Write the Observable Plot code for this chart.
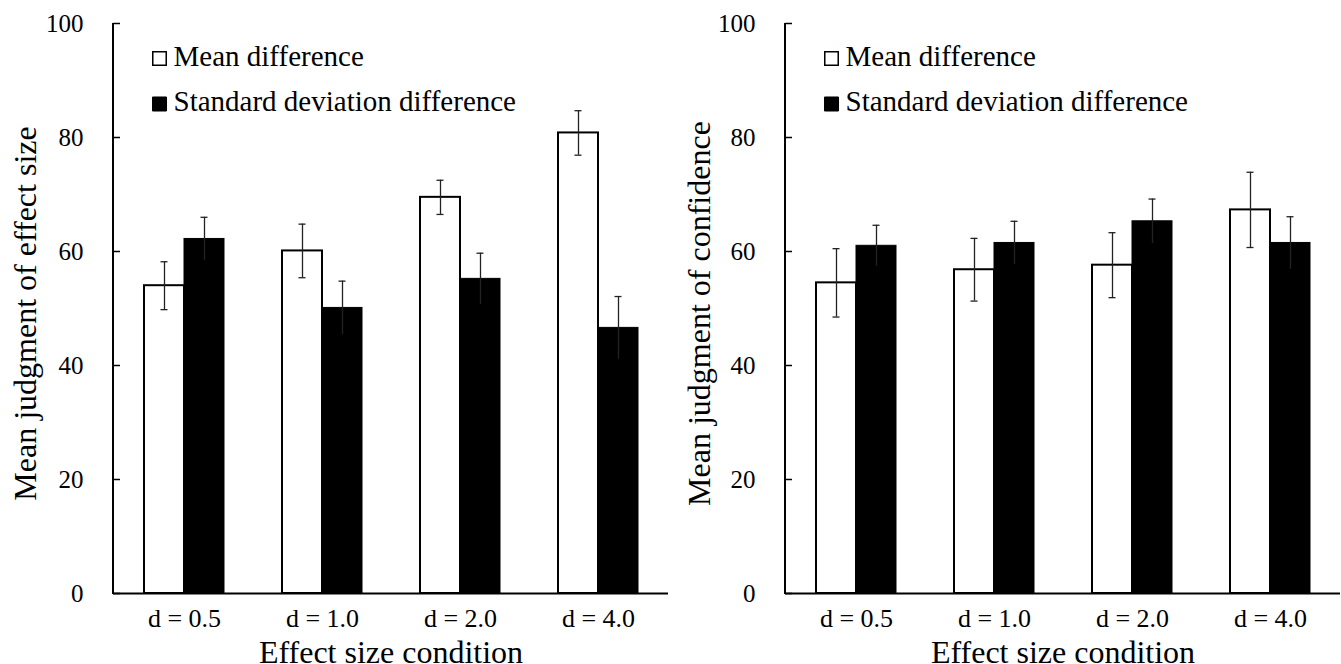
<!DOCTYPE html>
<html>
<head>
<meta charset="utf-8">
<script src="https://cdn.jsdelivr.net/npm/d3@7"></script>
<script src="https://cdn.jsdelivr.net/npm/@observablehq/plot@0.6"></script>
<style>
  html, body { margin: 0; padding: 0; background: white; }
  #wrap { display: flex; flex-direction: row; width: 1341px; height: 664px; }
  svg { overflow: visible; font-family: 'Liberation Serif', 'Times New Roman', serif !important; }
  svg text { font-family: 'Liberation Serif', 'Times New Roman', serif; }
</style>
</head>
<body>
<div id="wrap"></div>
<script>
// ---- data ----
const conditions = ["d = 0.5", "d = 1.0", "d = 2.0", "d = 4.0"];
const seriesNames = ["Mean difference", "Standard deviation difference"];

// Left panel: mean judgment of effect size
const effectMean = [54.0, 60.1, 69.5, 80.8];
const effectMeanErr = [4.2, 4.7, 3.0, 3.9];
const effectSD = [62.2, 50.1, 55.2, 46.6];
const effectSDErr = [3.8, 4.7, 4.5, 5.5];

// Right panel: mean judgment of confidence
const confMean = [54.5, 56.8, 57.6, 67.3];
const confMeanErr = [6.0, 5.5, 5.7, 6.6];
const confSD = [61.0, 61.5, 65.3, 61.5];
const confSDErr = [3.6, 3.8, 3.9, 4.6];

const yTicks = [0, 20, 40, 60, 80, 100];
const xTitle = "Effect size condition";
const yTitles = ["Mean judgment of effect size", "Mean judgment of confidence"];

// ---- chart ----
function panel({width, marginLeft, marginRight, mean, meanErr, sd, sdErr, yTitle, yTitleDx}) {
  const H = 664, mt = 23, mb = 71;
  const plotW = width - marginLeft - marginRight;
  const bandW = 80, half = bandW / 2, cap = 3.5;
  const rows = conditions.map((c, i) => ({c, mean: mean[i], meanErr: meanErr[i], sd: sd[i], sdErr: sdErr[i]}));
  const axisLine = (index, scales, values, dims) => {
    const g = d3.create("svg:g");
    g.append("line")
      .attr("x1", dims.marginLeft).attr("x2", dims.marginLeft)
      .attr("y1", scales.y(100)).attr("y2", scales.y(0) + 1)
      .attr("stroke", "black").attr("stroke-width", 2);
    return g.node();
  };
  return Plot.plot({
    width, height: H,
    marginLeft, marginRight, marginTop: mt, marginBottom: mb,
    style: {fontFamily: "'Liberation Serif', 'Times New Roman', serif", color: "black", background: "white", overflow: "visible"},
    x: {domain: conditions, paddingInner: 0.4234, paddingOuter: 0.214, range: [marginLeft, width - marginRight]},
    y: {domain: [0, 100]},
    marks: [
      // bars
      Plot.barY(rows, {x: "c", y: "mean", insetRight: half, fill: "white", stroke: "black", strokeWidth: 2}),
      Plot.barY(rows, {x: "c", y: "sd", insetLeft: half, fill: "black", stroke: "black", strokeWidth: 1}),
      // error bars (Mean)
      Plot.ruleX(rows, {x: "c", y1: d => d.mean - d.meanErr, y2: d => d.mean + d.meanErr, dx: -half / 2, stroke: "#222", strokeWidth: 1.3}),
      Plot.tickY(rows, {x: "c", y: d => d.mean + d.meanErr, insetLeft: half / 2 - cap, insetRight: bandW - half / 2 - cap, stroke: "#222", strokeWidth: 1.3}),
      Plot.tickY(rows, {x: "c", y: d => d.mean - d.meanErr, insetLeft: half / 2 - cap, insetRight: bandW - half / 2 - cap, stroke: "#222", strokeWidth: 1.3}),
      // error bars (SD)
      Plot.ruleX(rows, {x: "c", y1: d => d.sd - d.sdErr, y2: d => d.sd + d.sdErr, dx: half / 2, stroke: "#222", strokeWidth: 1.3}),
      Plot.tickY(rows, {x: "c", y: d => d.sd + d.sdErr, insetLeft: bandW - half / 2 - cap, insetRight: half / 2 - cap, stroke: "#222", strokeWidth: 1.3}),
      // axes
      Plot.ruleY([0], {stroke: "black", strokeWidth: 2}),
      axisLine,
      Plot.tickY(yTicks, {y: d => d, insetRight: plotW - 7, stroke: "black", strokeWidth: 1.5}),
      Plot.axisY({ticks: yTicks, tickSize: 0, tickPadding: 3, dx: -27, fontSize: 25, label: null}),
      Plot.axisX({tickSize: 0, tickPadding: 15, fontSize: 26, label: null}),
      // titles
      Plot.text([yTitle], {frameAnchor: "left", textAnchor: "middle", lineAnchor: "middle", rotate: -90, dx: yTitleDx, dy: 5, fontSize: 32}),
      Plot.text([xTitle], {frameAnchor: "bottom", textAnchor: "middle", lineAnchor: "middle", dy: 59, fontSize: 32}),
      // legend
      Plot.dot([seriesNames[0]], {frameAnchor: "top-left", dx: 46, dy: 35, symbol: "square", r: 7.6, fill: "white", stroke: "black", strokeWidth: 1.5}),
      Plot.dot([seriesNames[1]], {frameAnchor: "top-left", dx: 46, dy: 80.5, symbol: "square", r: 7.9, fill: "black", stroke: "black", strokeWidth: 1}),
      Plot.text([seriesNames[0]], {frameAnchor: "top-left", textAnchor: "start", lineAnchor: "middle", dx: 60, dy: 33, fontSize: 29}),
      Plot.text([seriesNames[1]], {frameAnchor: "top-left", textAnchor: "start", lineAnchor: "middle", dx: 60, dy: 78, fontSize: 29})
    ]
  });
}

const wrap = document.getElementById("wrap");
wrap.append(panel({width: 670, marginLeft: 113, marginRight: 2, mean: effectMean, meanErr: effectMeanErr, sd: effectSD, sdErr: effectSDErr, yTitle: yTitles[0], yTitleDx: -88}));
wrap.append(panel({width: 671, marginLeft: 115, marginRight: 1, mean: confMean, meanErr: confMeanErr, sd: confSD, sdErr: confSDErr, yTitle: yTitles[1], yTitleDx: -86}));
</script>
</body>
</html>
